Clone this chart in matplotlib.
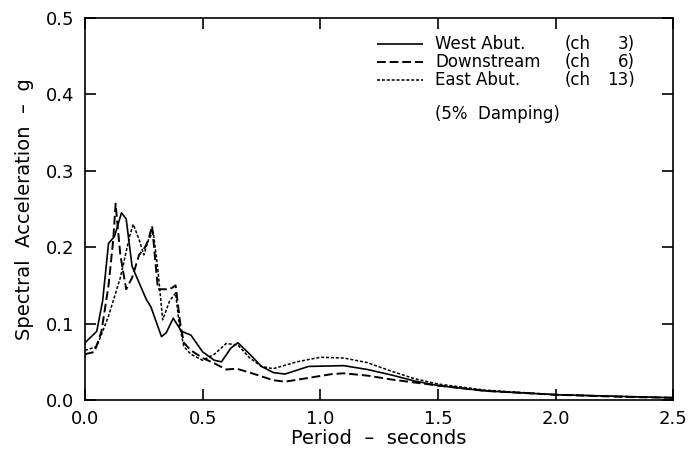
import matplotlib
matplotlib.use("Agg")
import matplotlib.pyplot as plt

# periods (s) and spectral acceleration (g)
west_t = [0.0, 0.05, 0.075, 0.10, 0.125, 0.155, 0.175, 0.20, 0.26, 0.28, 0.325,
          0.345, 0.375, 0.41, 0.45, 0.50, 0.55, 0.58, 0.62, 0.65, 0.70, 0.75,
          0.80, 0.85, 0.95, 1.10, 1.20, 1.30, 1.40, 1.50, 1.70, 2.00, 2.50]
west_sa = [0.075, 0.09, 0.13, 0.205, 0.214, 0.245, 0.237, 0.175, 0.132, 0.122, 0.083,
           0.088, 0.107, 0.09, 0.085, 0.063, 0.052, 0.05, 0.068, 0.075, 0.06, 0.044,
           0.036, 0.034, 0.044, 0.045, 0.04, 0.033, 0.025, 0.019, 0.012, 0.007, 0.003]

down_t = [0.0, 0.04, 0.07, 0.10, 0.12, 0.13, 0.15, 0.175, 0.20, 0.23, 0.255, 0.27,
          0.285, 0.31, 0.36, 0.385, 0.405, 0.42, 0.45, 0.50, 0.55, 0.60, 0.645,
          0.70, 0.75, 0.80, 0.85, 0.95, 1.05, 1.10, 1.20, 1.30, 1.40, 1.50, 1.70,
          2.00, 2.30, 2.50]
down_sa = [0.06, 0.063, 0.09, 0.15, 0.21, 0.257, 0.19, 0.145, 0.16, 0.19, 0.20, 0.21,
           0.228, 0.145, 0.145, 0.15, 0.10, 0.075, 0.065, 0.055, 0.048, 0.04, 0.041,
           0.036, 0.031, 0.026, 0.024, 0.029, 0.034, 0.035, 0.032, 0.027, 0.023, 0.019, 0.012,
           0.007, 0.004, 0.003]

east_t = [0.0, 0.05, 0.10, 0.15, 0.19, 0.205, 0.23, 0.25, 0.27, 0.29, 0.31, 0.33,
          0.36, 0.385, 0.40, 0.42, 0.45, 0.50, 0.55, 0.60, 0.65, 0.70, 0.75, 0.80,
          0.90, 1.00, 1.10, 1.20, 1.30, 1.40, 1.50, 1.70, 2.00, 2.50]
east_sa = [0.065, 0.07, 0.11, 0.16, 0.215, 0.23, 0.21, 0.19, 0.21, 0.22, 0.17, 0.105,
           0.13, 0.14, 0.10, 0.07, 0.06, 0.052, 0.06, 0.074, 0.072, 0.055, 0.044, 0.041,
           0.05, 0.056, 0.055, 0.049, 0.038, 0.028, 0.021, 0.013, 0.007, 0.003]

names = ["West Abut.", "Downstream", "East Abut."]
channels = ["3", "6", "13"]
styles = [(0, ()), (0, (4.5, 2)), (0, (2, 1.2))]
widths = [1.2, 1.4, 1.1]

fig = plt.figure(figsize=(6.94, 4.5), dpi=100)
ax = fig.add_axes([0.1225, 0.111, 0.8475, 0.849])

for (t, sa), ls, lw in zip([(west_t, west_sa), (down_t, down_sa), (east_t, east_sa)], styles, widths):
    ax.plot(t, sa, color="black", linestyle=ls, linewidth=lw)

ax.set_xlim(0, 2.5)
ax.set_ylim(0, 0.5)
ax.set_xticks([0.0, 0.5, 1.0, 1.5, 2.0, 2.5])
ax.set_yticks([0.0, 0.1, 0.2, 0.3, 0.4, 0.5])
ax.xaxis.set_major_formatter(plt.FormatStrFormatter("%.1f"))
ax.yaxis.set_major_formatter(plt.FormatStrFormatter("%.1f"))
ax.tick_params(direction="in", length=8, width=1.2, top=True, right=True, labelsize=13)
ax.tick_params(axis="x", pad=7)
ax.tick_params(axis="y", pad=8)
for s in ax.spines.values():
    s.set_linewidth(1.2)

ax.set_xlabel("Period  \u2013  seconds", fontsize=14, labelpad=1)
ax.set_ylabel("Spectral  Acceleration  \u2013  g", fontsize=14, labelpad=8)

# hand-drawn key, as in the original figure
rows = [0.932, 0.884, 0.838]
for name, ch, ls, lw, y in zip(names, channels, styles, widths, rows):
    ax.plot([0.497, 0.575], [y, y], transform=ax.transAxes, color="black",
            linestyle=ls, linewidth=lw)
    ax.text(0.595, y, name, transform=ax.transAxes, fontsize=12, va="center")
    ax.text(0.816, y, "(ch", transform=ax.transAxes, fontsize=12, va="center")
    ax.text(0.935, y, ch + ")", transform=ax.transAxes, fontsize=12, va="center", ha="right")
ax.text(0.595, 0.749, "(5%  Damping)", transform=ax.transAxes, fontsize=12, va="center")

fig.savefig("out.png", dpi=100)
